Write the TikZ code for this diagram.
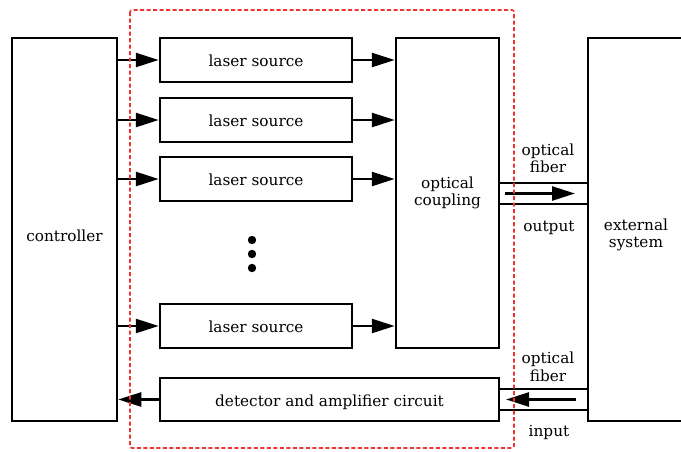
\documentclass[tikz,border=0pt]{standalone}
\usepackage{fontspec}
\setmainfont{DejaVu Serif}
\usetikzlibrary{arrows.meta}
\newcommand{\lowr}[2]{\raisebox{-#1}[\height][\depth]{#2}}
\begin{document}
\begin{tikzpicture}[x=1pt,y=-1pt,
  blk/.style={draw=black,line width=2.5pt,inner sep=0pt,align=center,font=\fontsize{15.3}{17.5}\selectfont},
  arr/.style={line width=2.5pt,-{Triangle[length=23pt,width=14pt]}},
  fib/.style={line width=2.5pt},
  lbl/.style={inner sep=0pt,align=center,font=\fontsize{15.3}{17.5}\selectfont},
  reddash/.style={draw={rgb,255:red,240;green,50;blue,50},line width=1.6pt,dash pattern=on 4pt off 2.5pt,rounded corners=2pt}]
\useasboundingbox (0,0) rectangle (681,451);
% blocks
\node[blk,minimum width=105pt,minimum height=383pt] (ctrl) at (64.5,229.5) {\lowr{6pt}{controller}};
\node[blk,minimum width=192pt,minimum height=44pt] (l1) at (256,60) {\lowr{1pt}{laser source}};
\node[blk,minimum width=192pt,minimum height=44pt] (l2) at (256,120) {\lowr{1pt}{laser source}};
\node[blk,minimum width=192pt,minimum height=44pt] (l3) at (256,179) {\lowr{1pt}{laser source}};
\node[blk,minimum width=192pt,minimum height=44pt] (l4) at (256,326) {\lowr{1pt}{laser source}};
\node[blk,minimum width=103pt,minimum height=310pt] (coup) at (447.5,193) {optical\\coupling};
\node[blk,minimum width=96pt,minimum height=383pt] (ext) at (636,229.5) {};
\node[lbl] (extt) at (636,235) {external\\system};
\node[blk,minimum width=339pt,minimum height=43pt] (det) at (329.5,399.5) {\lowr{2.5pt}{detector and amplifier circuit}};
% dots
\fill (252,240) circle (4.2pt) (252,254) circle (4.2pt) (252,268) circle (4.2pt);
% controller to lasers
\foreach \n in {l1,l2,l3,l4}{
  \draw[arr] (\n.west -| ctrl.east) -- (\n.west);
  \draw[arr] (\n.east) -- (\n.east -| coup.west);
}
% detector to controller
\draw[arr] (det.west) -- (det.west -| ctrl.east);
% fibers
\coordinate (oa) at (499,183);
\coordinate (ob) at (499,204);
\coordinate (ia) at (499,389);
\coordinate (ib) at (499,410);
\draw[fib] (oa) -- (oa -| ext.west);
\draw[fib] (ob) -- (ob -| ext.west);
\draw[fib] (ia) -- (ia -| ext.west);
\draw[fib] (ib) -- (ib -| ext.west);
\coordinate (os) at (505,193.5);
\coordinate (oe) at (575,193.5);
\coordinate (is) at (576,399.5);
\coordinate (ie) at (506,399.5);
\draw[arr] (os) -- (oe);
\draw[arr] (is) -- (ie);
% labels
\node[lbl] (f1) at (548,158.5) {optical\\fiber};
\node[lbl] (out) at (549,228) {output};
\node[lbl] (f2) at (548,367) {optical\\fiber};
\node[lbl] (inp) at (549,432) {input};
% red dashed box
\draw[reddash] (130,10) rectangle (514,448);
\end{tikzpicture}
\end{document}
